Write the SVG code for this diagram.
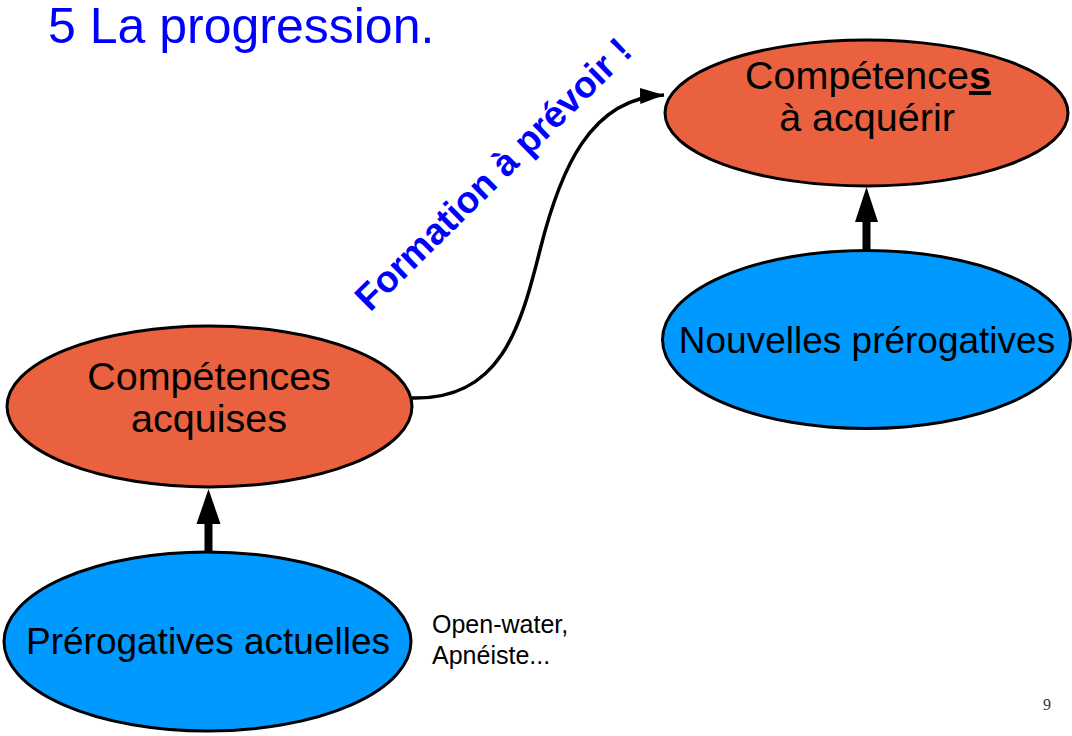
<svg xmlns="http://www.w3.org/2000/svg" width="1072" height="736" viewBox="0 0 1072 736">
<defs>
<style>
.orange{fill:#EA6140;stroke:#000;stroke-width:3}
.blue{fill:#0099FF;stroke:#000;stroke-width:3}
.lbl{font-family:"Liberation Sans",Arial,sans-serif;font-size:37px;fill:#000;text-anchor:middle}
.lblo{font-size:39.5px}
.small{font-family:"Liberation Sans",Arial,sans-serif;font-size:25px;fill:#000}
.conn{fill:none;stroke:#000;stroke-width:3.5}
.head{fill:#000;stroke:none}
</style>
<marker id="arr" markerUnits="userSpaceOnUse" markerWidth="26" markerHeight="18" refX="24" refY="8" orient="auto">
<path d="M0,0 L24,8 L0,16 Z" fill="#000"/>
</marker>
</defs>
<rect width="1072" height="736" fill="#fff"/>
<text x="48" y="43" font-family="Liberation Sans,Arial,sans-serif" font-size="50" fill="#0000FF">5 La progression.</text>

<g id="connectors">
<path class="conn" d="M412,398 C500,400 520,330 540,250 S590,98 664,95" marker-end="url(#arr)"/>
<rect x="204.5" y="520" width="8" height="32" class="head"/>
<path class="head" d="M196.5,524 L208.5,489 L220.5,524 Z"/>
<rect x="862.5" y="218" width="8" height="33" class="head"/>
<path class="head" d="M855,222 L866.5,187 L878,222 Z"/>
<text transform="translate(502,183) rotate(-44.5)" font-family="Liberation Sans,Arial,sans-serif" font-size="37" font-weight="bold" fill="#0000FF" text-anchor="middle">Formation à prévoir !</text>
</g>

<g id="node-acquerir">
<ellipse class="orange" cx="866.5" cy="113" rx="201.5" ry="73"/>
<text class="lbl lblo" x="868" y="89">Compétence<tspan font-weight="bold" text-decoration="underline">s</tspan></text>
<text class="lbl lblo" x="867" y="131">à acquérir</text>
</g>

<g id="node-nouvelles">
<ellipse class="blue" cx="866.5" cy="339.5" rx="204" ry="89"/>
<text class="lbl" x="867" y="353">Nouvelles prérogatives</text>
</g>

<g id="node-acquises">
<ellipse class="orange" cx="209.5" cy="406.5" rx="202.5" ry="80.5"/>
<text class="lbl lblo" x="209" y="390">Compétences</text>
<text class="lbl lblo" x="209" y="432">acquises</text>
</g>

<g id="node-actuelles">
<ellipse class="blue" cx="207.5" cy="641.5" rx="203.5" ry="89.5"/>
<text class="lbl" x="208" y="654">Prérogatives actuelles</text>
</g>

<text class="small" x="432" y="633">Open-water,</text>
<text class="small" x="432" y="664">Apnéiste...</text>
<text x="1043" y="710" font-family="Liberation Serif,serif" font-size="16" fill="#333">9</text>
</svg>
